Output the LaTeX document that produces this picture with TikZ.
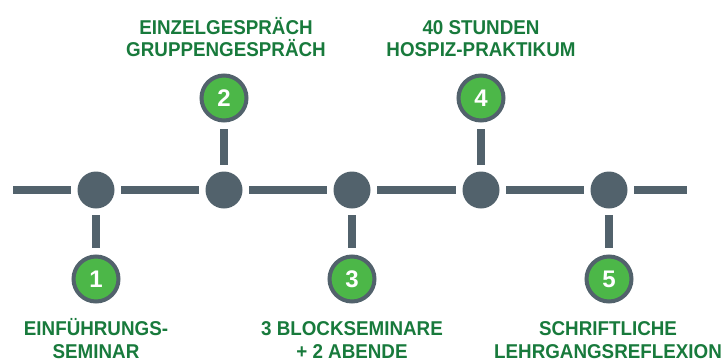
\documentclass[tikz,border=0pt]{standalone}
\usepackage{fontspec}
\setmainfont{Liberation Sans}
\newfontfamily\lblfamily[FakeStretch=0.94]{Liberation Sans}
\newfontfamily\numfamily{Liberation Sans}
\definecolor{slate}{HTML}{52626C}
\definecolor{leaf}{HTML}{4CB748}
\definecolor{ink}{HTML}{187A3C}
\newcommand{\lblfont}{\lblfamily\bfseries\fontsize{20}{22.5}\selectfont}
\newcommand{\numfont}{\numfamily\bfseries\fontsize{24}{24}\selectfont}
\newcommand{\topstrut}{\rule{0pt}{20pt}}
\begin{document}
\begin{tikzpicture}[x=1pt,y=-1pt,
  hub/.style={circle,fill=slate,minimum size=37pt,inner sep=0pt},
  num/.style={circle,fill=leaf,draw=slate,line width=4pt,minimum size=45pt,inner sep=0pt,text=white,font=\numfont},
  link/.style={draw=slate,line width=8.5pt,shorten <=6.5pt,shorten >=6.5pt},
  lbl/.style={text=ink,align=center,anchor=north,inner sep=0pt,font=\lblfont}]
\useasboundingbox (0,0) rectangle (725,362);
% hubs on the time line
\node[hub] (d1) at (96,190) {};
\node[hub] (d2) at (224,190) {};
\node[hub] (d3) at (352,190) {};
\node[hub] (d4) at (481,190) {};
\node[hub] (d5) at (609,190) {};
\coordinate (L) at (13,190);
\coordinate (R) at (687,190);
% numbered circles
\node[num] (g1) at (96,279) {1};
\node[num] (g2) at (224,98) {2};
\node[num] (g3) at (352,279) {3};
\node[num] (g4) at (481,98) {4};
\node[num] (g5) at (609,279) {5};
% time line
\draw[link,shorten <=0pt] (L) -- (d1);
\draw[link] (d1) -- (d2);
\draw[link] (d2) -- (d3);
\draw[link] (d3) -- (d4);
\draw[link] (d4) -- (d5);
\draw[link,shorten >=0pt] (d5) -- (R);
% stubs
\draw[link] (d1) -- (g1);
\draw[link] (d2) -- (g2);
\draw[link] (d3) -- (g3);
\draw[link] (d4) -- (g4);
\draw[link] (d5) -- (g5);
% labels
\node[lbl] (t1) at (96,315.5) {\topstrut EINFÜHRUNGS-\\SEMINAR};
\node[lbl] (t2) at (226,14) {\topstrut EINZELGESPRÄCH\\GRUPPENGESPRÄCH};
\node[lbl] (t3) at (352,315.5) {\topstrut 3 BLOCKSEMINARE\\+ 2 ABENDE};
\node[lbl] (t4) at (481,14) {\topstrut 40 STUNDEN\\HOSPIZ-PRAKTIKUM};
\node[lbl] (t5) at (608,315.5) {\topstrut SCHRIFTLICHE\\LEHRGANGSREFLEXION};
\end{tikzpicture}
\end{document}
